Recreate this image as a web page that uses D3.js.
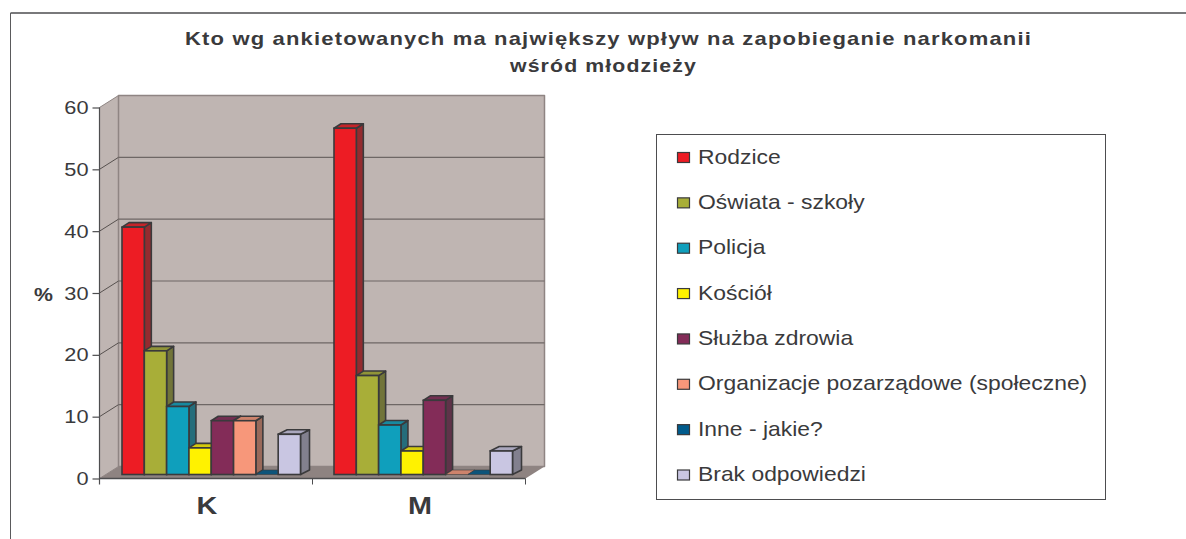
<!DOCTYPE html>
<html lang="pl">
<head>
<meta charset="utf-8">
<script src="https://d3js.org/d3.v7.min.js"></script>
<style>
    html, body { margin: 0; padding: 0; background: #fff; }
    svg { display: block; }
    text { font-family: "Liberation Sans", Arial, sans-serif; fill: #3a3a3c; }
</style>
</head>
<body>
<svg id="chart" width="1186" height="539"></svg>
<script>
const categories = ["K", "M"];
const seriesNames = ["Rodzice", "Oświata - szkoły", "Policja", "Kościół", "Służba zdrowia",
    "Organizacje pozarządowe (społeczne)", "Inne - jakie?", "Brak odpowiedzi"];
const valuesK = [40, 20, 11, 4.3, 8.7, 8.7, 0, 6.5];
const valuesM = [56, 16, 8, 3.8, 12, 0, 0, 3.8];
const seriesColors = ["#ed1c24", "#a8ae38", "#0f9fbc", "#fff200", "#832c58", "#f7977a", "#005b8c", "#c9c6e2"];
const yTicks = [0, 10, 20, 30, 40, 50, 60];

const stroke = "#3a3a3c";
const svg = d3.select("#chart");

// plot box, front edge of the floor
const plotLeft = 99.5, plotRight = 525.5, plotTop = 107.5, plotBottom = 478.5;
const depthX = 19, depthY = -12;     // wall depth
const barDepthX = 7, barDepthY = -4.5;
const barShiftY = -4;
const textStretch = 1.145;           // the original text is wider than Liberation Sans

const y = d3.scaleLinear().domain([0, 60]).range([plotBottom, plotTop]);
const x = d3.scaleBand().domain(categories).range([plotLeft, plotRight]);
const groupX = d3.scaleBand().domain(categories).range([122, 546]);
const inner = d3.scaleBand().domain(d3.range(seriesNames.length)).range([0, 178.5]);

function poly(points, fill, color, width) {
    return svg.append("polygon")
        .attr("points", points.map(p => p.join(",")).join(" "))
        .attr("fill", fill)
        .attr("stroke", color || "none")
        .attr("stroke-width", width || 0)
        .attr("stroke-linejoin", "round");
}

function line(x1, y1, x2, y2, color, width) {
    svg.append("line")
        .attr("x1", x1).attr("y1", y1).attr("x2", x2).attr("y2", y2)
        .attr("stroke", color).attr("stroke-width", width);
}

// outer frame, only top and left are in the picture
line(10.5, 13, 1186, 13, "#4d4d4f", 1.5);
line(10.5, 13, 10.5, 539, "#5a5a5c", 1);

// walls and floor
poly([[plotLeft, plotBottom], [plotLeft, plotTop], [plotLeft + depthX, plotTop + depthY], [plotLeft + depthX, plotBottom + depthY]], "#bfb5b2", "#8f8583", 1);
poly([[plotLeft + depthX, plotTop + depthY], [plotRight + depthX, plotTop + depthY], [plotRight + depthX, plotBottom + depthY], [plotLeft + depthX, plotBottom + depthY]], "#bfb5b2", "#8f8583", 1.5);
poly([[plotLeft, plotBottom], [plotLeft + depthX, plotBottom + depthY], [plotRight + depthX, plotBottom + depthY], [plotRight, plotBottom]], "#8e8381");

// gridlines on the back wall and along the side wall
yTicks.slice(1, -1).forEach(t => {
    line(plotLeft, y(t), plotLeft + depthX, y(t) + depthY, "#57514f", 1);
    line(plotLeft + depthX, y(t) + depthY, plotRight + depthX, y(t) + depthY, "#6e6765", 1.2);
});

// axes
const yAxis = svg.append("g").attr("transform", `translate(${plotLeft},0)`)
    .call(d3.axisLeft(y).tickValues(yTicks).tickSize(7).tickPadding(4));
const xAxis = svg.append("g").attr("transform", `translate(0,${plotBottom})`)
    .call(d3.axisBottom(x).tickSize(0).tickPadding(18));
yAxis.selectAll("path, line").attr("stroke", "#4d4d4f").attr("stroke-width", 1.2);
yAxis.select("path").attr("d", `M0,${plotTop}V${plotBottom + 6}`);
yAxis.selectAll("text").attr("font-size", 19).attr("fill", "#3a3a3c")
    .style("font-family", "Liberation Sans")
    .attr("x", -11 / textStretch).attr("transform", `scale(${textStretch},1)`);
xAxis.select("path").attr("stroke", "#4d4d4f").attr("stroke-width", 1.5).attr("d", `M${plotLeft},0H${plotRight}`);
xAxis.selectAll("text").attr("font-size", 24).attr("font-weight", "bold").attr("fill", "#3a3a3c")
    .style("font-family", "Liberation Sans")
    .attr("transform", "translate(1,0) scale(1.2,1)");
[x("M"), plotRight].forEach(px => line(px, plotBottom, px, plotBottom + 6, "#4d4d4f", 1));

// bars
function drawBars(category, values) {
    values.forEach((v, i) => {
        const x0 = groupX(category) + inner(i);
        const x1 = x0 + inner.bandwidth();
        const base = y(0) + barShiftY;
        const yTop = y(v) + barShiftY;
        const toGrey = d3.interpolateRgb(seriesColors[i], "#3a3a3a");
        // last bar sticks out a bit further in the original
        const dx = i === seriesNames.length - 1 ? 9 : barDepthX;
        if (v > 0) {
            poly([[x1, base], [x1, yTop], [x1 + dx, yTop + barDepthY], [x1 + dx, base + barDepthY]],
                toGrey(0.5), stroke, 1.6);
        }
        poly([[x0, yTop], [x0 + dx, yTop + barDepthY], [x1 + dx, yTop + barDepthY], [x1, yTop]],
            toGrey(0.22), stroke, v > 0 ? 1.6 : 0.6);
        if (v > 0) {
            svg.append("rect").attr("x", x0).attr("y", yTop)
                .attr("width", x1 - x0).attr("height", base - yTop)
                .attr("fill", seriesColors[i]).attr("stroke", stroke).attr("stroke-width", 1.6);
        }
    });
}
drawBars("K", valuesK);
drawBars("M", valuesM);

// title and axis name
svg.append("text").attr("x", 185).attr("y", 45)
    .attr("font-size", 19).attr("font-weight", "bold").attr("letter-spacing", 1)
    .attr("textLength", 847).attr("lengthAdjust", "spacingAndGlyphs")
    .text("Kto wg ankietowanych ma największy wpływ na zapobieganie narkomanii");
svg.append("text").attr("x", 510).attr("y", 72)
    .attr("font-size", 19).attr("font-weight", "bold").attr("letter-spacing", 1)
    .attr("textLength", 187).attr("lengthAdjust", "spacingAndGlyphs")
    .text("wśród młodzieży");
svg.append("text").attr("transform", "translate(34,300.5) scale(1.12,1)")
    .attr("font-size", 19).attr("font-weight", "bold").text("%");

// legend
svg.append("rect").attr("x", 656.5).attr("y", 134.5).attr("width", 449).attr("height", 365)
    .attr("fill", "#fff").attr("stroke", "#4d4d4f").attr("stroke-width", 1);
const legendY = d3.scalePoint().domain(seriesNames).range([157.5, 475]);
seriesNames.forEach((name, i) => {
    svg.append("rect").attr("x", 677.5).attr("y", legendY(name) - 5).attr("width", 12).attr("height", 10)
        .attr("fill", seriesColors[i]).attr("stroke", stroke).attr("stroke-width", 1.2);
    svg.append("text").attr("transform", `translate(698,${legendY(name) + 6}) scale(${textStretch},1)`)
        .attr("font-size", 20).text(name);
});
</script>
</body>
</html>
